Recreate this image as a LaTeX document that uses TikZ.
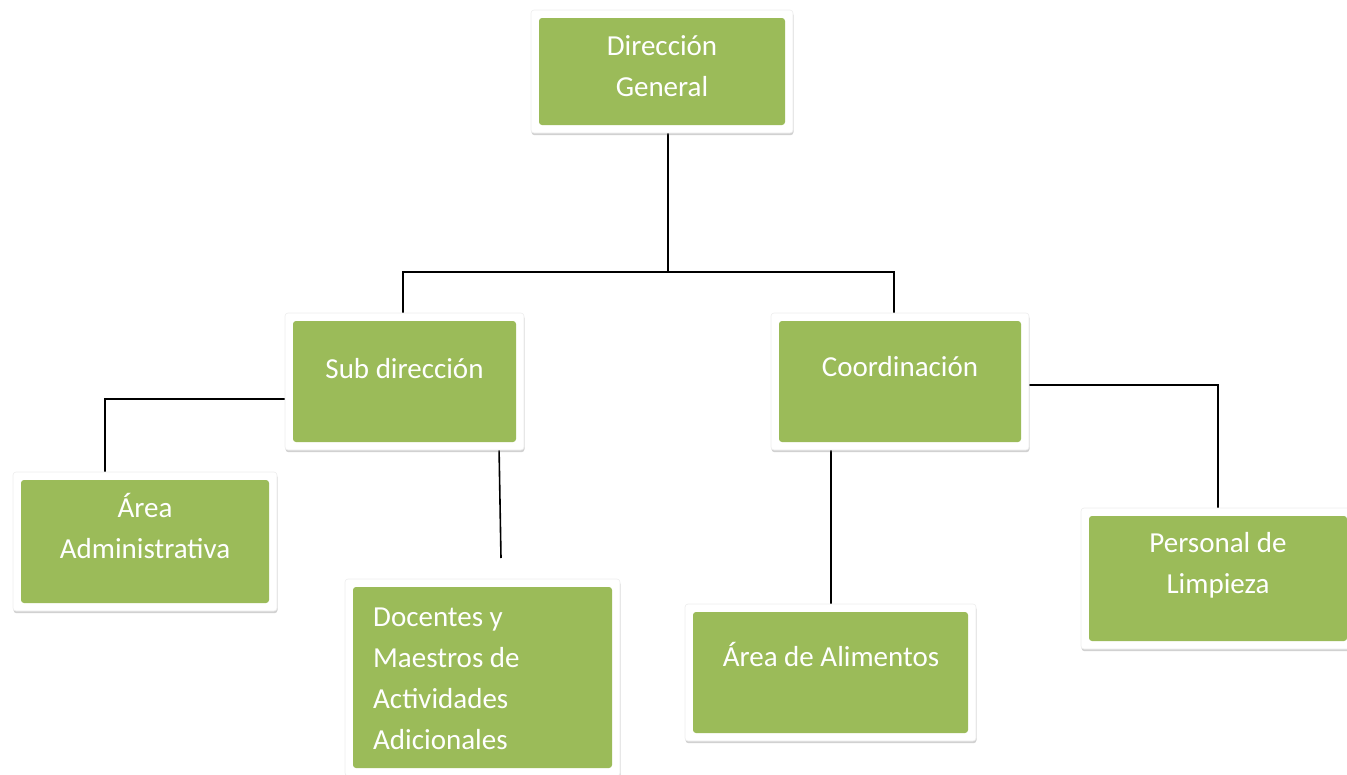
\documentclass[tikz,border=0pt]{standalone}
\usepackage{fontspec}
\setmainfont{Carlito}
\usetikzlibrary{shadows}
\definecolor{olivebox}{HTML}{9BBB59}
\pgfdeclarelayer{bg}
\pgfsetlayers{bg,main}
\tikzset{
  orgbox/.style={fill=white, draw=black!7, line width=0.6pt, rounded corners=3pt, inner sep=0pt, outer sep=0pt,
    drop shadow={shadow xshift=0.5pt, shadow yshift=-2.2pt, opacity=0.3, fill=black!60},
    path picture={\fill[olivebox] ([shift={(8pt,-8pt)}]path picture bounding box.north west)
      rectangle ([shift={(-8pt,8pt)}]path picture bounding box.south east);}},
  boxtext/.style={text=white, font=\fontsize{29}{41}\selectfont, inner sep=0pt, anchor=base, align=center},
  conn/.style={draw=black, line width=1.6pt}
}
\begin{document}
\begin{tikzpicture}[x=1pt,y=1pt]
\useasboundingbox (0,0) rectangle (1347,-774);
% boxes
\node[orgbox, minimum width=262pt, minimum height=123pt] (dg) at (662,-71.5) {};
\node[orgbox, minimum width=239pt, minimum height=137pt] (sd) at (404.5,-381.5) {};
\node[orgbox, minimum width=258pt, minimum height=137pt] (cd) at (900,-381.5) {};
\node[orgbox, minimum width=264pt, minimum height=139pt] (aa) at (145,-541.5) {};
\node[orgbox, minimum width=275pt, minimum height=197pt] (doc) at (482.5,-677.5) {};
\node[orgbox, minimum width=291pt, minimum height=137pt] (alim) at (830.5,-672.5) {};
\node[orgbox, minimum width=274pt, minimum height=141pt] (pl) at (1218,-578.5) {};
% texts (base anchor = baseline of the last line)
\node[boxtext] (dgt) at (662,-96.7) {Dirección\\General};
\node[boxtext] (sdt) at (404.5,-378) {Sub dirección};
\node[boxtext] (cdt) at (900,-376) {Coordinación};
\node[boxtext] (aat) at (145,-558.7) {Área\\Administrativa};
\node[boxtext, anchor=base west, align=left] (doct) at (373,-749.5) {Docentes y\\Maestros de\\Actividades\\Adicionales};
\node[boxtext] (alimt) at (831,-666.7) {Área de Alimentos};
\node[boxtext] (plt) at (1218,-593) {Personal de\\Limpieza};
% connectors
\coordinate (j) at (668,-272);
\begin{pgfonlayer}{bg}
\draw[conn] (dg.south -| j) -- (j);
\draw[conn] ([xshift=-1.5pt]sd.north) |- (j) -| ([xshift=-6pt]cd.north);
\draw[conn] ([yshift=-17.5pt]sd.west) -| ([xshift=-40pt]aa.north);
\draw[conn] ([xshift=94.5pt,yshift=4pt]sd.south) -- ([xshift=18.5pt,yshift=21pt]doc.north);
\draw[conn] ([xshift=-69pt,yshift=3pt]cd.south) -- ([xshift=-69pt]cd.south |- alim.north);
\draw[conn] ([yshift=-3.5pt]cd.east) -| (pl.north);
\end{pgfonlayer}
\end{tikzpicture}
\end{document}
